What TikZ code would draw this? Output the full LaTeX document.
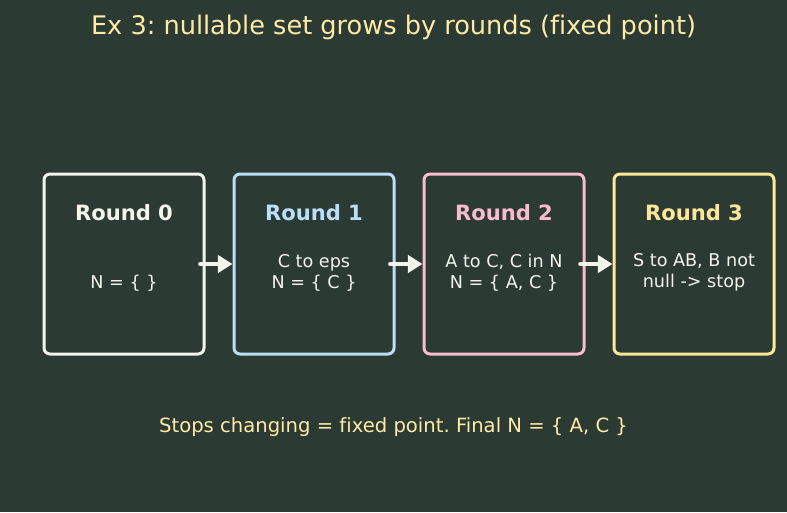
\documentclass[tikz,border=0pt]{standalone}
\usepackage{fontspec}
\setmainfont{DejaVu Sans}[Ligatures=NoCommon]
\usetikzlibrary{positioning,arrows.meta}
\frenchspacing
\definecolor{bgdark}{HTML}{2B3B33}
\definecolor{inkwhite}{HTML}{F4F4EC}
\definecolor{roundblue}{HTML}{BBDEFB}
\definecolor{roundpink}{HTML}{F8BBD0}
\definecolor{roundgold}{HTML}{FFE699}
\definecolor{titlegold}{HTML}{FFEAA8}
\tikzset{
  roundbox/.style={draw, fill=bgdark, line width=2.25pt, rounded corners=4.5pt,
    minimum width=120pt, minimum height=135pt, inner sep=0pt},
  heading/.style={font=\bfseries\fontsize{15.8}{19}\selectfont},
  bodytext/.style={text=inkwhite, align=center, font=\fontsize{13.2}{15.75}\selectfont},
  flow/.style={draw=inkwhite, line width=3pt, line cap=round, -{Triangle[length=11pt, width=13pt]}},
}

\begin{document}
\begin{tikzpicture}[x=0.75pt, y=-0.75pt, node distance=20.25pt]
  \fill[bgdark] (0,0) rectangle (787,512);
  \useasboundingbox (0,0) rectangle (787,512);
  \node[text=titlegold, font=\fontsize{19.2}{23}\selectfont] (title) at (393.5,27.5)
    {Ex 3: nullable set grows by rounds (fixed point)};
  % the four rounds
  \node[roundbox, draw=inkwhite] (r0) at (124,264) {};
  \node[roundbox, draw=roundblue, right=of r0] (r1) {};
  \node[roundbox, draw=roundpink, right=of r1] (r2) {};
  \node[roundbox, draw=roundgold, right=of r2] (r3) {};
  \node[heading, text=inkwhite] (h0) at ([yshift=-30pt]r0.north) {Round 0};
  \node[heading, text=roundblue] (h1) at ([yshift=-30pt]r1.north) {Round 1};
  \node[heading, text=roundpink] (h2) at ([yshift=-30pt]r2.north) {Round 2};
  \node[heading, text=roundgold] (h3) at ([yshift=-30pt]r3.north) {Round 3};
  \node[bodytext] (b0) at ([yshift=-14.5pt]r0.center) {N = \{ \}};
  \node[bodytext] (b1) at ([yshift=-6.5pt]r1.center) {C to eps\\N = \{ C \}};
  \node[bodytext] (b2) at ([yshift=-6.5pt]r2.center) {A to C, C in N\\N = \{ A, C \}};
  \node[bodytext] (b3) at ([yshift=-6.5pt]r3.center) {S to AB, B not\\null -> stop};
  % arrows between rounds
  \draw[flow] ([xshift=-4pt]r0.east) -- (r1.west);
  \draw[flow] ([xshift=-4pt]r1.east) -- (r2.west);
  \draw[flow] ([xshift=-4pt]r2.east) -- (r3.west);
  \node[text=titlegold, font=\fontsize{14.7}{17.5}\selectfont] (note) at (393.5,427)
    {Stops changing = fixed point. Final N = \{ A, C \}};
\end{tikzpicture}
\end{document}
